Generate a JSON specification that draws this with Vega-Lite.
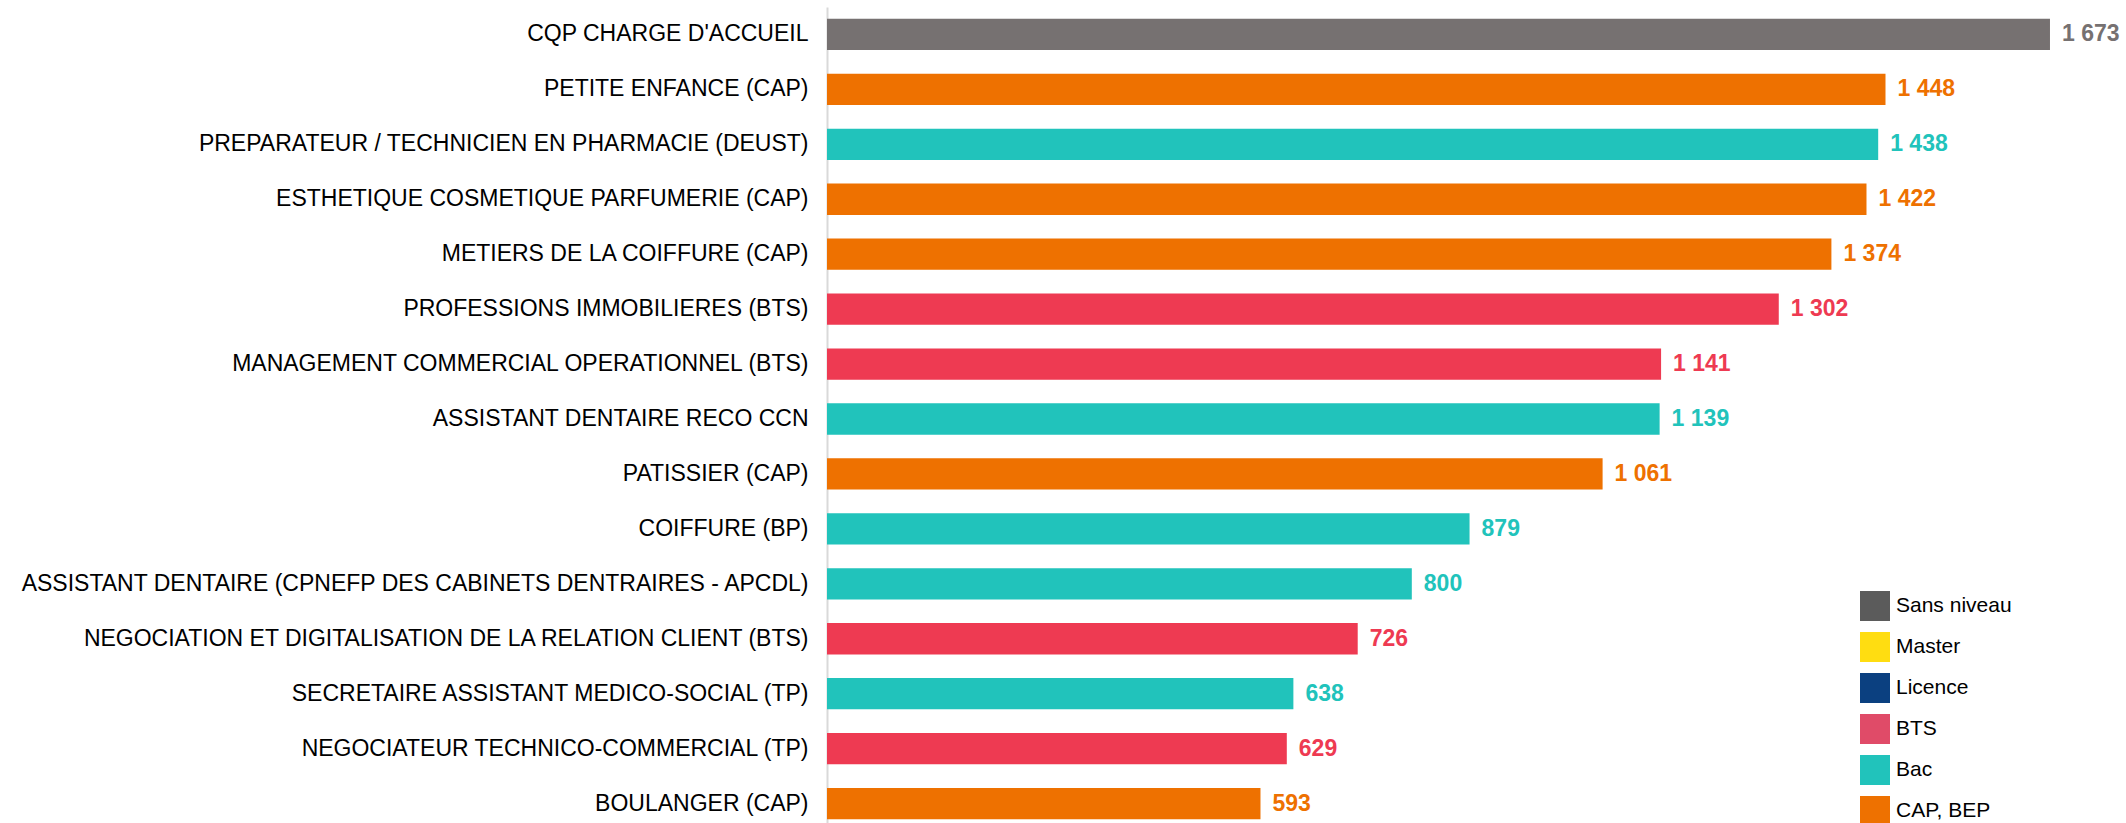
{
  "$schema": "https://vega.github.io/schema/vega-lite/v6.json",
  "autosize": "none",
  "width": 1299,
  "height": 824,
  "padding": {"left": 827, "top": 7, "right": 0, "bottom": 0},
  "background": "white",
  "config": {
    "view": {"stroke": null},
    "font": "Liberation Sans",
    "locale": {"number": {"decimal": ",", "thousands": "\u00a0", "grouping": [3], "currency": ["", " €"]}}
  },
  "data": {
    "values": [
      {"label": "CQP CHARGE D'ACCUEIL", "value": 1673, "niveau": "Sans niveau"},
      {"label": "PETITE ENFANCE (CAP)", "value": 1448, "niveau": "CAP, BEP"},
      {"label": "PREPARATEUR / TECHNICIEN EN PHARMACIE (DEUST)", "value": 1438, "niveau": "Bac"},
      {"label": "ESTHETIQUE COSMETIQUE PARFUMERIE (CAP)", "value": 1422, "niveau": "CAP, BEP"},
      {"label": "METIERS DE LA COIFFURE (CAP)", "value": 1374, "niveau": "CAP, BEP"},
      {"label": "PROFESSIONS IMMOBILIERES (BTS)", "value": 1302, "niveau": "BTS"},
      {"label": "MANAGEMENT COMMERCIAL OPERATIONNEL (BTS)", "value": 1141, "niveau": "BTS"},
      {"label": "ASSISTANT DENTAIRE RECO CCN", "value": 1139, "niveau": "Bac"},
      {"label": "PATISSIER (CAP)", "value": 1061, "niveau": "CAP, BEP"},
      {"label": "COIFFURE (BP)", "value": 879, "niveau": "Bac"},
      {"label": "ASSISTANT DENTAIRE (CPNEFP DES CABINETS DENTRAIRES - APCDL)", "value": 800, "niveau": "Bac"},
      {"label": "NEGOCIATION ET DIGITALISATION DE LA RELATION CLIENT (BTS)", "value": 726, "niveau": "BTS"},
      {"label": "SECRETAIRE ASSISTANT MEDICO-SOCIAL (TP)", "value": 638, "niveau": "Bac"},
      {"label": "NEGOCIATEUR TECHNICO-COMMERCIAL (TP)", "value": 629, "niveau": "BTS"},
      {"label": "BOULANGER (CAP)", "value": 593, "niveau": "CAP, BEP"}
    ]
  },
  "encoding": {
    "y": {
      "field": "label", "type": "nominal", "sort": null, "title": null,
      "scale": {"paddingInner": 0.43, "paddingOuter": 0.215},
      "axis": {
        "ticks": false, "grid": false, "domainColor": "#d9d9d9", "domainWidth": 2,
        "labelFontSize": 23, "labelColor": "#000000", "labelPadding": 19,
        "labelFont": "Liberation Sans", "labelLimit": 900
      }
    },
    "x": {
      "field": "value", "type": "quantitative", "title": null,
      "scale": {"domain": [0, 1777], "nice": false, "zero": true},
      "axis": null
    }
  },
  "layer": [
    {
      "mark": {"type": "bar"},
      "encoding": {
        "color": {
          "field": "niveau", "type": "nominal",
          "scale": {"domain": ["Sans niveau", "Master", "Licence", "BTS", "Bac", "CAP, BEP"],
                    "range": ["#767171", "#FFDD11", "#0B4080", "#EE3A52", "#21C3BB", "#EE7100"]},
          "legend": null
        }
      }
    },
    {
      "mark": {"type": "text", "align": "left", "baseline": "middle", "dx": 12, "fontWeight": "bold", "fontSize": 23, "font": "Liberation Sans"},
      "encoding": {
        "text": {"field": "value", "type": "quantitative", "format": ",d"},
        "color": {
          "field": "niveau", "type": "nominal",
          "scale": {"domain": ["Sans niveau", "Master", "Licence", "BTS", "Bac", "CAP, BEP"],
                    "range": ["#767171", "#FFDD11", "#0B4080", "#EE3A52", "#21C3BB", "#EE7100"]},
          "legend": null
        }
      }
    },
    {
      "mark": {"type": "square", "opacity": 0},
      "encoding": {
        "color": {
          "field": "niveau", "type": "nominal",
          "scale": {"domain": ["Sans niveau", "Master", "Licence", "BTS", "Bac", "CAP, BEP"],
                    "range": ["#5B5B5B", "#FFDD11", "#0B4080", "#E04B68", "#21C3BB", "#EE7100"]},
          "legend": {
            "orient": "none", "legendX": 1033, "legendY": 584, "title": null,
            "symbolType": "square", "symbolSize": 900, "symbolOpacity": 1, "symbolStrokeWidth": 0,
            "labelFontSize": 21, "labelColor": "#000000", "labelFont": "Liberation Sans",
            "labelOffset": 6, "rowPadding": 11, "padding": 0
          }
        }
      }
    }
  ],
  "resolve": {"scale": {"color": "independent"}}
}
